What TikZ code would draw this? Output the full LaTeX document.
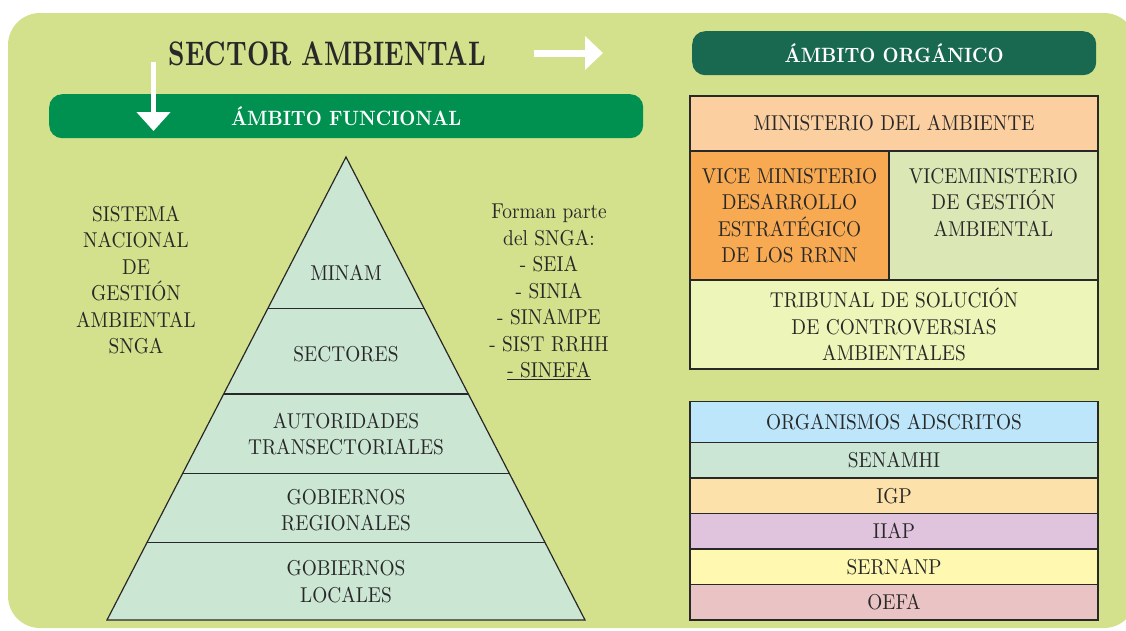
\documentclass[tikz,border=0pt]{standalone}
\usepackage{fontspec}
\setmainfont{lmroman10}[Extension=.otf, UprightFont=*-regular, BoldFont=*-bold, FakeStretch=0.9]
\newfontfamily\titlefont{lmroman10}[Extension=.otf, UprightFont=*-regular, BoldFont=*-bold, FakeStretch=0.76]
\usetikzlibrary{arrows.meta,calc}

\definecolor{bggreen}{RGB}{211,225,140}
\definecolor{funcgreen}{RGB}{0,145,80}
\definecolor{orggreen}{RGB}{25,104,80}
\definecolor{ink}{RGB}{40,40,40}
\definecolor{pyrfill}{RGB}{204,230,212}
\definecolor{minfill}{RGB}{251,207,160}
\definecolor{vicefill}{RGB}{248,170,82}
\definecolor{gestfill}{RGB}{219,232,182}
\definecolor{tribfill}{RGB}{237,245,184}
\definecolor{adsfill}{RGB}{190,230,250}
\definecolor{senfill}{RGB}{204,230,213}
\definecolor{igpfill}{RGB}{252,225,170}
\definecolor{iiapfill}{RGB}{224,196,222}
\definecolor{sernfill}{RGB}{255,248,176}
\definecolor{oefafill}{RGB}{234,196,196}

\newcommand\txtsize{\fontsize{21.5}{26.5}\selectfont}
\newcommand\barsize{\fontsize{20.7}{24}\selectfont}
\newcommand\titlesize{\fontsize{34}{38}\selectfont}

\begin{document}
\begin{tikzpicture}[x=1pt,y=-1pt,
  every node/.style={text=ink, font=\txtsize, align=center},
  bar/.style={fill=#1, rounded corners=13pt, minimum height=44pt,
     text=white, font=\barsize\bfseries, anchor=north west, inner sep=0pt},
  cell/.style={draw=ink, line width=1.2pt, fill=#1, anchor=north west,
     inner sep=0pt, outer sep=0pt, minimum width=408pt},
  layer/.style={draw=ink, line width=1.2pt},
  wtarrow/.style={white, line width=#1}]
\useasboundingbox (0,0) rectangle (1126,630);
\fill[bggreen, rounded corners=32pt] (8,13) rectangle (1136,628);

% headings
\node[font=\titlefont\titlesize\bfseries] (title) at (327.5,54) {SECTOR AMBIENTAL};
\node[bar=funcgreen, minimum width=594pt] (funcbar) at (49,94) {ÁMBITO FUNCIONAL};
\node[bar=orggreen, minimum width=404pt] (orgbar) at (692,31) {ÁMBITO ORGÁNICO};

\coordinate (r0) at (534,53);
\coordinate (r1) at (603,53);
\draw[wtarrow=7pt, -{Triangle[length=18pt,width=33pt]}] (r0) -- (r1);
\coordinate (d0) at (153.5,62);
\coordinate (d1) at (153.5,131);
\draw[wtarrow=5.5pt, -{Triangle[length=19pt,width=33pt]}] (d0) -- (d1);

% pyramid
\coordinate (top) at (346,157);
\coordinate (bl) at (107,620);
\coordinate (br) at (585,620);
\filldraw[layer, fill=pyrfill] (top) -- (bl) -- (br) -- cycle;
\foreach \t in {0.328,0.512,0.683,0.832}
  \draw[layer] ($(top)!\t!(bl)$) -- ($(top)!\t!(br)$);

\node (minam) at (346,273) {MINAM};
\node (sect) at (346,354) {SECTORES};
\node (auto) at (346,434) {AUTORIDADES\\TRANSECTORIALES};
\node (greg) at (346,510) {GOBIERNOS\\REGIONALES};
\node (gloc) at (346,581.5) {GOBIERNOS\\LOCALES};

\node (snga) at (136,280) {SISTEMA\\NACIONAL\\DE\\GESTIÓN\\AMBIENTAL\\SNGA};
\node (forman) at (549,292) {Forman parte\\del SNGA:\\- SEIA\\- SINIA\\- SINAMPE\\- SIST RRHH\\\underline{- SINEFA}};

% organic table
\node[cell=minfill, minimum height=55pt] (mina) at (690,96) {MINISTERIO DEL AMBIENTE};
\node[cell=vicefill, minimum width=199pt, minimum height=129pt] (vdr) at (mina.south west)
  {VICE MINISTERIO\\DESARROLLO\\ESTRATÉGICO\\DE LOS RRNN};
\node[cell=gestfill, minimum width=209pt, minimum height=129pt] (vga) at (vdr.north east)
  {VICEMINISTERIO\\DE GESTIÓN\\AMBIENTAL\\\mbox{}};
\node[cell=tribfill, minimum height=89pt] (tsc) at (vdr.south west)
  {TRIBUNAL DE SOLUCIÓN\\DE CONTROVERSIAS\\AMBIENTALES};

% attached bodies
\node[cell=adsfill, minimum height=41pt] (ads) at (690,401.5) {ORGANISMOS ADSCRITOS};
\foreach \n/\c [count=\i] in {SENAMHI/senfill, IGP/igpfill, IIAP/iiapfill, SERNANP/sernfill, OEFA/oefafill}
  \node[cell=\c, minimum height=35.5pt] (ob\i) at (690,{442.5+35.5*(\i-1)}) {\n};
\end{tikzpicture}
\end{document}
